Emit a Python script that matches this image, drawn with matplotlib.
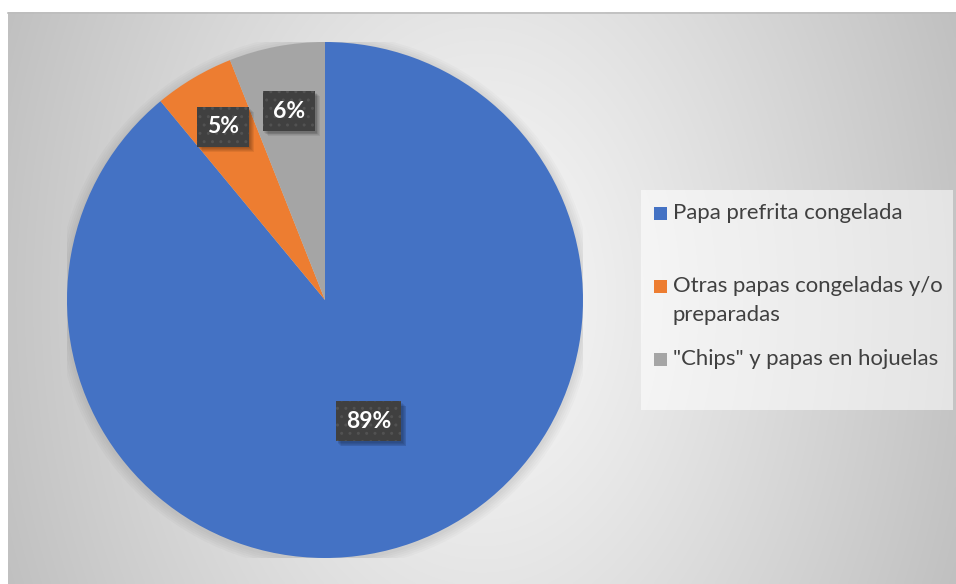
import textwrap
import numpy as np
import matplotlib
matplotlib.use("Agg")
import matplotlib.pyplot as plt
from matplotlib.patches import Rectangle, Circle

# Data
categories = ["Papa prefrita congelada",
              "Otras papas congeladas y/o preparadas",
              "\"Chips\" y papas en hojuelas"]
shares = [89, 5, 6]
slice_colors = ["#4472C4", "#ED7D31", "#A5A5A5"]

W, H = 956, 584
fig = plt.figure(figsize=(W / 100, H / 100), dpi=100)
fig.patch.set_facecolor("white")

# Background chart area with radial shading (pixel coordinates, y down)
bg = fig.add_axes([0, 0, 1, 1])
bg.set_xlim(0, W)
bg.set_ylim(H, 0)
bg.axis("off")
x0, x1, y0, y1 = 8, W, 12, H
xs = np.linspace(x0, x1, 400)
ys = np.linspace(y0, y1, 250)
X, Y = np.meshgrid(xs, ys)
cx, cy = 482, 300
r = np.sqrt(((X - cx) / 475.0) ** 2 + 0.18 * ((Y - cy) / 290.0) ** 2)
shade = np.clip(249 - 52 * r ** 1.1, 190, 250) / 255.0
img = np.dstack([shade, shade, shade])
bg.imshow(img, extent=(x0, x1, y1, y0), origin="upper", aspect="auto",
          interpolation="bilinear", zorder=0)
bg.plot([x0, x1], [y0 + 0.5, y0 + 0.5], color="#bdbdbd", lw=1.2, zorder=1)

# Legend panel
bg.add_patch(Rectangle((641, 190), 312, 220, facecolor="white", alpha=0.55,
                       edgecolor="none", zorder=2))
legend_baselines = [219, 292, 365]
line_step = 29
for cat, col, yb in zip(categories, slice_colors, legend_baselines):
    bg.add_patch(Rectangle((654, yb - 12.5), 13, 13, facecolor=col,
                           edgecolor="none", zorder=3))
    for i, line in enumerate(textwrap.wrap(cat, 28)):
        bg.text(673, yb + i * line_step, line, fontsize=15.9,
                family="Lato", color="#404040", va="baseline", ha="left",
                zorder=3)

# Pie
ax = fig.add_axes([67 / W, 26 / H, 516 / W, 516 / H])
for k in range(5):
    ax.add_patch(Circle((0.0, -0.006), 1.0 + 0.008 * (k + 1), facecolor="black",
                        alpha=0.018, edgecolor="none", zorder=0))
wedges, _ = ax.pie(shares, colors=slice_colors, startangle=90,
                   counterclock=False, radius=1.0,
                   wedgeprops=dict(linewidth=0, zorder=2))
ax.set_xlim(-1, 1)
ax.set_ylim(-1, 1)
ax.set_aspect("equal")
ax.axis("off")

# Overlay for value labels (pixel coordinates, y down)
ov = fig.add_axes([0, 0, 1, 1], zorder=5)
ov.set_xlim(0, W)
ov.set_ylim(H, 0)
ov.axis("off")
ov.patch.set_visible(False)

label_radius = [0.5, 0.78, 0.745]
total = float(sum(shares))
cum = 0.0
renderer = fig.canvas.get_renderer()
for v, rr in zip(shares, label_radius):
    mid = np.deg2rad(90 - 360 * (cum + v / 2) / total)
    cum += v
    px, py = ax.transData.transform((rr * np.cos(mid), rr * np.sin(mid)))
    lx, ly = px, H - py
    t = ov.text(lx, ly, f"{v}%", ha="center", va="center", fontsize=16.5,
                fontweight="bold", family="Lato", color="white", zorder=6)
    bb = t.get_window_extent(renderer)
    bx_w, bx_h = bb.width + 20, 40
    left, top = lx - bx_w / 2, ly - bx_h / 2
    for k in range(5):
        off = 1.5 + k * 0.9
        ov.add_patch(Rectangle((left + off, top + off), bx_w, bx_h,
                               facecolor="black", alpha=0.07,
                               edgecolor="none", zorder=4))
    ov.add_patch(Rectangle((left, top), bx_w, bx_h, facecolor="#404040",
                           edgecolor="#525252", linewidth=0, hatch="..",
                           zorder=5))

fig.savefig("out.png", dpi=100, facecolor="white")
